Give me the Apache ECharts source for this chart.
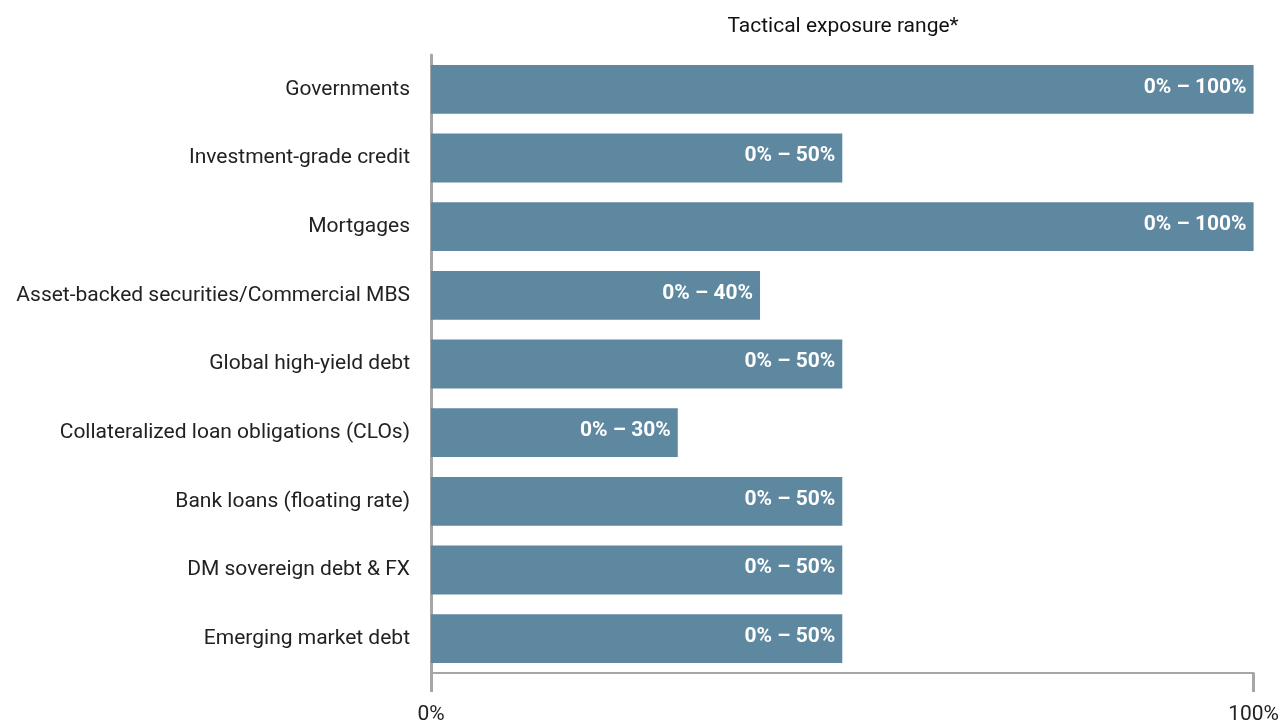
<!DOCTYPE html>
<html><head><meta charset="utf-8">
<script src="https://cdn.jsdelivr.net/npm/echarts@6/dist/echarts.min.js"></script>
<style>html,body{margin:0;padding:0;background:#fff}#c{width:1282px;height:725px}</style>
</head><body><div id="c"></div>
<script>
const categories = ["Governments","Investment-grade credit","Mortgages","Asset-backed securities/Commercial MBS","Global high-yield debt","Collateralized loan obligations (CLOs)","Bank loans (floating rate)","DM sovereign debt & FX","Emerging market debt"];
const maxExposure = [100,50,100,40,50,30,50,50,50];
const rangeLabels = ["0% – 100%","0% – 50%","0% – 100%","0% – 40%","0% – 50%","0% – 30%","0% – 50%","0% – 50%","0% – 50%"];
const xTicks = [0,100];
const chart = echarts.init(document.getElementById('c'));
const font = 'Roboto, "Liberation Sans", sans-serif';
chart.setOption({
  animation:false,
  textStyle:{fontFamily:font},
  title:{text:'Tactical exposure range*',left:838,top:11,textAlign:'center',textStyle:{fontSize:21,fontWeight:'normal',color:'#111',fontFamily:font}},
  grid:{left:431,right:28,top:55,bottom:52,containLabel:false},
  xAxis:{type:'value',min:xTicks[0],max:xTicks[1],interval:100,
    axisLine:{show:true,lineStyle:{color:'#a6a6a6',width:2}},
    axisTick:{show:true,length:19,lineStyle:{color:'#a6a6a6',width:3}},
    axisLabel:{formatter:'{value}%',fontSize:21,color:'#222',margin:31,fontFamily:font},
    splitLine:{show:false}},
  yAxis:{type:'category',data:categories,inverse:true,
    axisLine:{show:true,lineStyle:{color:'#a6a6a6',width:3}},
    axisTick:{show:false},
    axisLabel:{fontSize:21,color:'#222',margin:21,fontFamily:font,lineHeight:21,padding:[0,0,6,0]}},
  series:[{type:'bar',data:maxExposure,barCategoryGap:'29%',
    itemStyle:{color:'#5e87a0'},
    label:{show:true,position:'insideRight',distance:7,offset:[0,-2],color:'#fff',fontWeight:'bold',fontSize:21,fontFamily:font,
      formatter:p=>rangeLabels[p.dataIndex]}}]
});
</script></body></html>
